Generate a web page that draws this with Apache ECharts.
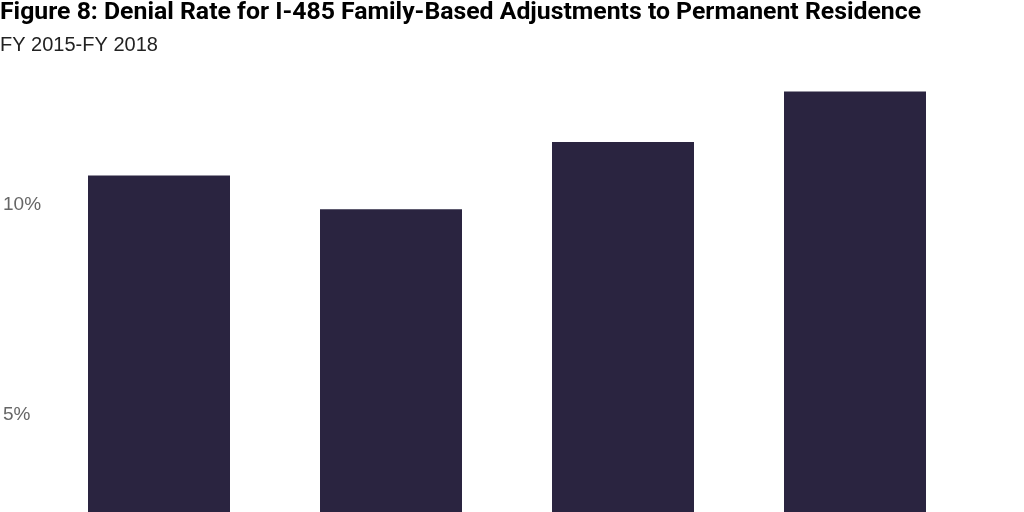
<!DOCTYPE html>
<html>
<head>
<meta charset="utf-8">
<script src="https://cdn.jsdelivr.net/npm/echarts@6/dist/echarts.min.js"></script>
<style>
  html, body { margin: 0; padding: 0; background: #fff; }
  #chart { width: 1024px; height: 512px; }
</style>
</head>
<body>
<div id="chart"></div>
<script>
// fiscal years and denial rates (%)
var years = ['FY 2015', 'FY 2016', 'FY 2017', 'FY 2018'];
var denialRate = [10.7, 9.9, 11.5, 12.7];
var tickValues = [5, 10];

var chart = echarts.init(document.getElementById('chart'));
chart.setOption({
    backgroundColor: '#fff',
    animation: false,
    title: {
        text: 'Figure 8: Denial Rate for I-485 Family-Based Adjustments to Permanent Residence',
        subtext: 'FY 2015-FY 2018',
        left: 0,
        top: 0,
        padding: 0,
        itemGap: 10,
        textStyle: { fontFamily: 'Roboto', fontWeight: 'bold', fontSize: 24.8, color: '#000' },
        subtextStyle: { fontFamily: 'Liberation Sans', fontSize: 20, color: '#222' }
    },
    // the chart is cropped: the visible window spans roughly 2.7% to 14.9%
    grid: { left: 41, right: 53, top: 0, bottom: 0 },
    xAxis: {
        type: 'category',
        data: years,
        axisLine: { show: false },
        axisTick: { show: false },
        axisLabel: { show: false }
    },
    yAxis: {
        type: 'value',
        min: 2.69,
        max: 14.88,
        splitLine: { show: false },
        axisLine: { show: false },
        axisTick: { show: false },
        axisLabel: {
            customValues: tickValues,
            align: 'left',
            margin: 40,
            padding: [3, 0, 0, 0],
            formatter: '{value}%',
            fontFamily: 'Liberation Sans',
            fontSize: 19,
            color: '#666'
        }
    },
    series: [{
        type: 'bar',
        data: denialRate,
        barWidth: 142,
        itemStyle: { color: '#2a2440' }
    }]
});
</script>
</body>
</html>
